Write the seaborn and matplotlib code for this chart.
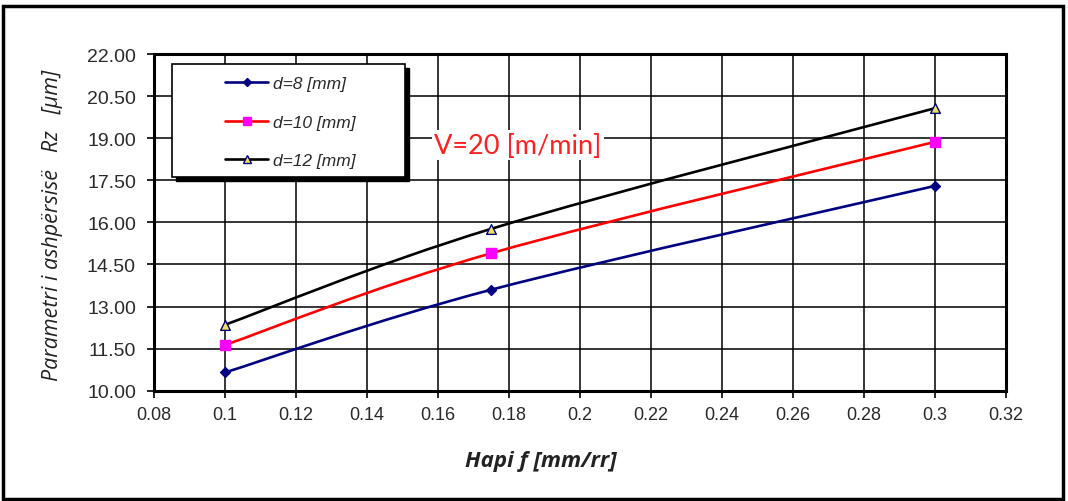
import numpy as np
import pandas as pd
import matplotlib
matplotlib.use("Agg")
import matplotlib.pyplot as plt
from matplotlib.path import Path
from matplotlib.patches import PathPatch, Rectangle
from matplotlib.lines import Line2D
from matplotlib.ticker import FormatStrFormatter, FuncFormatter
import seaborn as sns

# Feed rate f [mm/rr] and roughness Rz [µm] for three depths d
feed = [0.1, 0.175, 0.3]
rz_d8 = [10.65, 13.6, 17.3]
rz_d10 = [11.63, 14.9, 18.87]
rz_d12 = [12.35, 15.77, 20.07]
series_labels = ["d=8 [mm]", "d=10 [mm]", "d=12 [mm]"]
x_ticks = [0.08, 0.10, 0.12, 0.14, 0.16, 0.18, 0.20, 0.22, 0.24, 0.26, 0.28, 0.30, 0.32]
y_ticks = [10.0, 11.5, 13.0, 14.5, 16.0, 17.5, 19.0, 20.5, 22.0]
speed_note = "V=20 [m/min]"
x_label = "Hapi f [mm/rr]"
y_label = "Parametri i ashpërsisë   Rz   [µm]"

sns.set_style("white")
plt.rcParams["font.family"] = ["Liberation Sans", "DejaVu Sans"]

fig = plt.figure(figsize=(10.68, 5.02), dpi=100)
ax = fig.add_axes([0.1442, 0.2197, 0.7978, 0.6707])

styles = [
    dict(color="#000080", marker="D", mfc="#000080", mec="#000080", ms=5),
    dict(color="#ff0000", marker="s", mfc="#ff00ff", mec="#ff00ff", ms=7),
    dict(color="#000000", marker="^", mfc="#f0e060", mec="#000080", ms=7),
]


def smooth_path(xs, ys, tension=1.0 / 6.0):
    """Cubic Bezier through the points (spreadsheet-style smoothed line)."""
    pts = np.column_stack([xs, ys])
    n = len(pts)
    verts = [pts[0]]
    codes = [Path.MOVETO]
    for i in range(n - 1):
        p_prev = pts[i - 1] if i > 0 else pts[i]
        p0, p1 = pts[i], pts[i + 1]
        p_next = pts[i + 2] if i + 2 < n else pts[i + 1]
        c1 = p0 + (p1 - p_prev) * tension
        c2 = p1 - (p_next - p0) * tension
        verts += [c1, c2, p1]
        codes += [Path.CURVE4] * 3
    return Path(verts, codes)


for ys, st, lab in zip([rz_d8, rz_d10, rz_d12], styles, series_labels):
    ax.add_patch(PathPatch(smooth_path(feed, ys), facecolor="none",
                           edgecolor=st["color"], lw=1.9, zorder=3))
    df = pd.DataFrame({"f": feed, "rz": ys})
    sns.scatterplot(data=df, x="f", y="rz", ax=ax, marker=st["marker"],
                    s=st["ms"] ** 2, color=st["mfc"], edgecolor=st["mec"],
                    linewidth=1.0, zorder=4, legend=False)

ax.set_xlim(0.08, 0.32)
ax.set_ylim(10, 22)
ax.set_xticks(x_ticks)
ax.set_yticks(y_ticks)
ax.xaxis.set_major_formatter(FuncFormatter(lambda v, p: f"{v:g}"))
ax.yaxis.set_major_formatter(FormatStrFormatter("%.2f"))
ax.grid(True, color="black", lw=1.1)
ax.set_axisbelow(True)
for s in ax.spines.values():
    s.set_visible(True)
    s.set_color("black")
    s.set_linewidth(2.2)
ax.tick_params(axis="both", direction="out", length=5, width=1.2, color="black",
               labelsize=13, labelcolor="#2a2a2a", bottom=True, left=True)
ax.tick_params(axis="x", pad=6)
ax.tick_params(axis="y", pad=8, labelsize=14)

ax.set_xlabel("")
ax.set_ylabel("")
fig.text(541 / 1068, 1 - 462 / 502, x_label, ha="center", va="center",
         fontsize=16, fontweight="bold", style="italic", family="Open Sans",
         color="#222222")
fig.text(53 / 1068, 1 - 225 / 502, y_label, ha="center", va="center",
         rotation=90, fontsize=15.5, style="italic", family="Open Sans",
         color="#222222")

# Speed note with white background
ax.text(0.08 + (518 - 154) / 852 * 0.24, 22 - (146 - 55) / 336.7 * 12, speed_note,
        ha="center", va="center", fontsize=19.5, color="#ff2020", family="Lato",
        zorder=5, bbox=dict(facecolor="white", edgecolor="none", pad=1.5))

# Legend box with drop shadow
lx0, lx1 = (172 - 154) / 852, (405 - 154) / 852
ly0, ly1 = (391.7 - 178) / 336.7, (391.7 - 65) / 336.7
sh = 4 / 852, 4 / 336.7
ax.add_patch(Rectangle((lx0 + sh[0], ly0 - sh[1]), lx1 - lx0, ly1 - ly0,
                       transform=ax.transAxes, facecolor="black",
                       edgecolor="black", zorder=6))
ax.add_patch(Rectangle((lx0, ly0), lx1 - lx0, ly1 - ly0, transform=ax.transAxes,
                       facecolor="white", edgecolor="black", lw=1.2, zorder=7))
handles = [Line2D([0], [0], color=st["color"], lw=1.9, marker=st["marker"],
                  markersize=st["ms"] - 1, markerfacecolor=st["mfc"],
                  markeredgecolor=st["mec"]) for st in styles]
leg = ax.legend(handles, series_labels, loc="upper left",
                bbox_to_anchor=((225 - 154) / 852, (391.7 - 77) / 336.7),
                frameon=False, borderpad=0, borderaxespad=0, handlelength=2.5,
                handletextpad=0.25, labelspacing=1.35,
                prop=dict(family="Liberation Sans", style="italic", size=12.5))
leg.set_zorder(8)
for t in leg.get_texts():
    t.set_color("#2a2a2a")

# Outer frame
fig.add_artist(Rectangle((3 / 1068, 2 / 502), 1060 / 1068, 493 / 502,
                         transform=fig.transFigure, facecolor="none",
                         edgecolor="black", lw=2.5))

fig.savefig("out.png", dpi=100)
